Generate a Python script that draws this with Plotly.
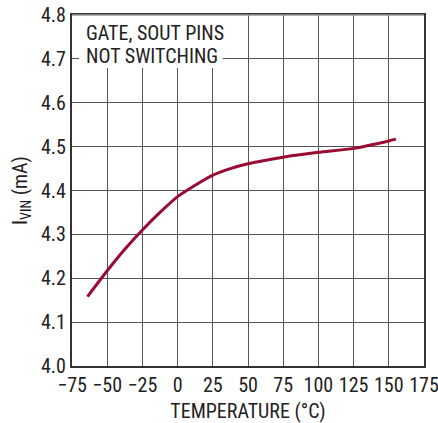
import plotly.graph_objects as go

temp_c = [-64, -50, -37.5, -25, -12.5, 0, 12.5, 25, 37.5, 50, 75, 100, 125, 150, 155]
ivin_ma = [4.158, 4.217, 4.266, 4.310, 4.350, 4.386, 4.412, 4.435, 4.450, 4.461, 4.476, 4.487, 4.496, 4.513, 4.517]

x_ticks = [-75, -50, -25, 0, 25, 50, 75, 100, 125, 150, 175]
y_ticks = [4.0, 4.1, 4.2, 4.3, 4.4, 4.5, 4.6, 4.7, 4.8]
note_lines = ["GATE, SOUT PINS", "NOT SWITCHING"]

FONT = "Liberation Sans Narrow, Roboto Condensed, Arial Narrow, sans-serif"
FS = 20

fig = go.Figure()
fig.add_trace(go.Scatter(
    x=temp_c, y=ivin_ma, mode="lines",
    line=dict(color="#9a0a32", width=3, shape="spline", smoothing=0.6),
    showlegend=False, hoverinfo="skip",
))

fig.add_shape(type="rect", xref="x", yref="y", x0=-70, x1=32, y0=4.679, y1=4.8,
              fillcolor="white", line=dict(width=0), layer="between")
for txt, yv in zip(note_lines, [4.758, 4.707]):
    fig.add_annotation(
        x=-66, y=yv, xref="x", yref="y", xanchor="left", yanchor="middle",
        text=txt, showarrow=False, align="left", borderpad=0,
        font=dict(family=FONT, size=FS, color="#222"),
    )
fig.add_shape(type="line", xref="paper", yref="paper", x0=0, x1=1, y0=1, y1=1,
              line=dict(color="#999", width=1.5))

fig.update_layout(
    width=438, height=423,
    margin=dict(l=72, r=14, t=15, b=57, autoexpand=False),
    paper_bgcolor="white", plot_bgcolor="white",
    font=dict(family=FONT, size=FS, color="#222"),
)
fig.update_xaxes(
    range=[-75, 175], tickvals=x_ticks, ticktext=[str(v).replace("-", "\u2212") for v in x_ticks],
    showgrid=True, gridcolor="#555", gridwidth=1,
    showline=True, linecolor="#333", linewidth=2, mirror=True,
    ticks="", zeroline=False, automargin=False, ticklabeloverflow="allow",
    title=dict(text="TEMPERATURE (°C)", standoff=15, font=dict(size=FS)),
    tickfont=dict(size=FS),
)
fig.update_yaxes(
    range=[4.0, 4.8], tickvals=y_ticks, ticktext=[f"{v:.1f}" for v in y_ticks],
    showgrid=True, gridcolor="#555", gridwidth=1,
    showline=True, linecolor="#333", linewidth=2, mirror=True,
    ticks="", zeroline=False, automargin=False, ticklabeloverflow="allow",
    title=dict(text="I<sub>VIN</sub> (mA)", standoff=8, font=dict(size=FS)),
    tickfont=dict(size=FS),
)

fig.write_html("out.html", config={"displayModeBar": False},
               post_script="document.body.style.margin='0';document.body.style.overflow='hidden';")
